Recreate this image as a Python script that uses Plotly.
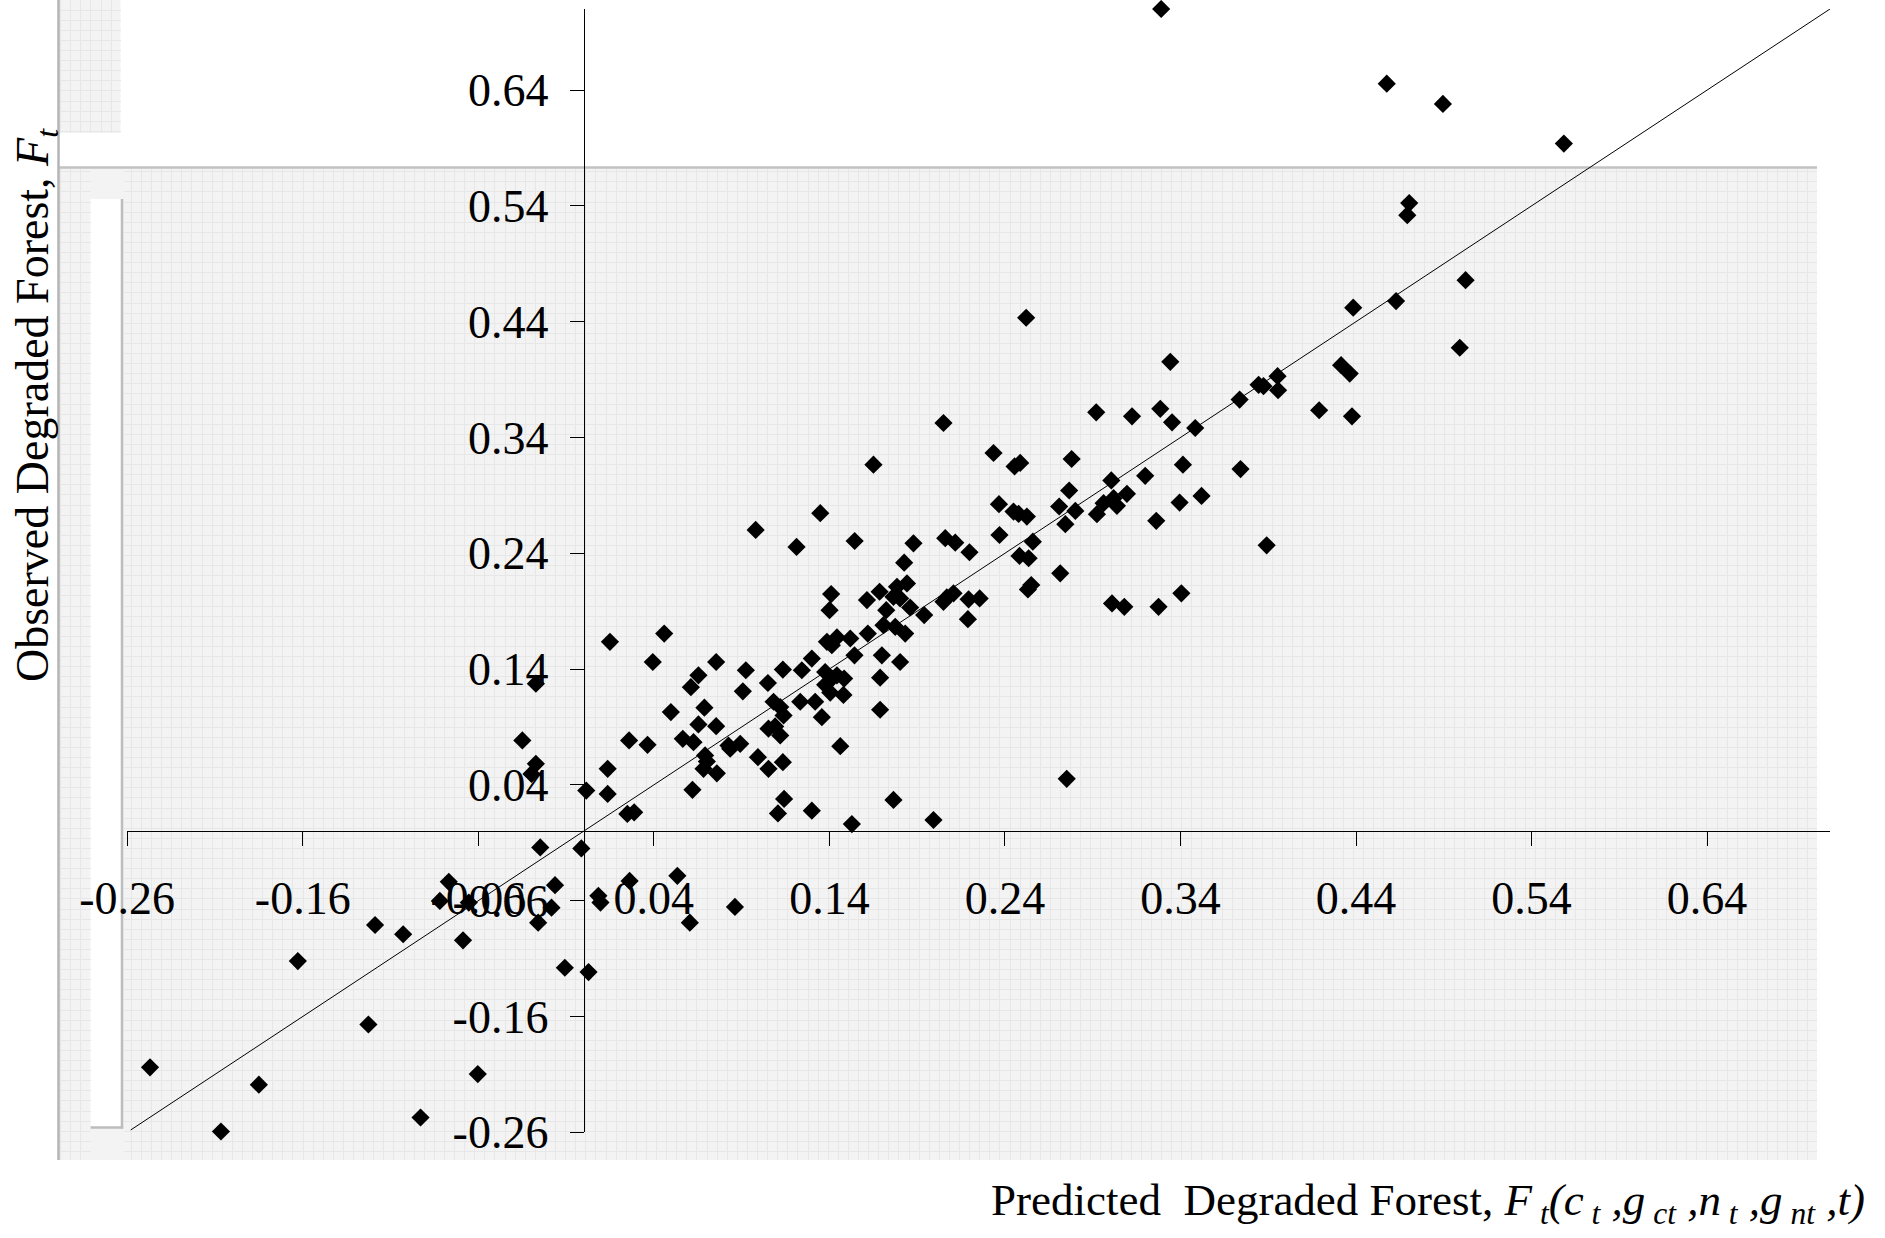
import plotly.graph_objects as go

# ---------------- data ----------------
PREDICTED = [
    0.329, 0.4575, 0.4895, 0.5584, 0.4703, 0.4692, 0.5024, 0.4628, 0.4384, 0.4991,
    0.4315, 0.4364, 0.3953, 0.3873, 0.3845, 0.3956, 0.3737, 0.4190, 0.4377, 0.3742,
    0.3520, 0.3891, 0.2521, 0.3342,
    0.2050, 0.2920, 0.3124, 0.3285, 0.3352, 0.3484, 0.2335, 0.2455, 0.2487, 0.2780,
    0.3414, 0.3199, 0.3006, 0.2766, 0.3095, 0.2366, 0.2449, 0.2478, 0.2525, 0.2709,
    0.2801, 0.2962, 0.3019, 0.3038, 0.2924, 0.3395, 0.3262, 0.2744, 0.2369, 0.2559,
    0.1879, 0.2060, 0.2117, 0.2198, 0.2483, 0.2535, 0.1826, 0.2715, 0.1842, 0.2550,
    0.2531, 0.2069, 0.2107, 0.2050, 0.2193, 0.2256, 0.3010, 0.3080, 0.3275, 0.3405,
    0.1860, 0.1940, 0.2189, 0.1832, 0.1803,
    0.1785, 0.1765, 0.1686, 0.1614, 0.1803, 0.1410, 0.1401, 0.1724, 0.1708, 0.1775,
    0.1619, 0.1386, 0.1443, 0.1414, 0.1519, 0.1543, 0.1699, 0.1689, 0.1689, 0.1300,
    0.1243, 0.1135, 0.1050, 0.1376, 0.1414, 0.1443, 0.1484, 0.1376, 0.1405, 0.1480,
    0.1234, 0.1319, 0.1357, 0.1462, 0.1082, 0.1120, 0.1139, 0.1053, 0.1091, 0.1120,
    0.0907, 0.0924, 0.0755, 0.0654, 0.0611, 0.0688, 0.0654, 0.0755, 0.0565, 0.0626,
    0.0497, 0.0459, 0.0394, 0.0364, 0.0692, 0.0702, 0.0683, 0.0759, 0.0825, 0.0892,
    0.0835, 0.0993, 0.1053, 0.1135, 0.0620, 0.1142, 0.1107, 0.1300, 0.1528, 0.1765,
    0.1993,
    0.1651, 0.1348, 0.0980, 0.1213, 0.1544, 0.0150, 0.0259, 0.0137, 0.0137, 0.2752,
    0.0249, 0.0288,
    -0.0272, -0.0349, -0.0272, -0.0297, 0.0015,
    -0.0247, -0.0013, 0.0262, 0.0534, 0.0605, -0.0768, -0.0819, 0.0084, 0.0096, -0.0163,
    -0.0183, -0.0259, -0.0687, -0.1028, -0.1188, -0.1628, -0.0107, 0.0028, -0.1226, -0.0603,
    -0.2470, -0.1850, -0.2066, -0.0929, 0.0862, -0.0654,
]
OBSERVED = [
    0.710, 0.6455, 0.628, 0.5938, 0.5424, 0.5320, 0.4758, 0.4578, 0.4521, 0.4175,
    0.4024, 0.3952, 0.3929, 0.3843, 0.3855, 0.3808, 0.3727, 0.3635, 0.3583, 0.3127,
    0.2895, 0.2469, 0.4434, 0.4053,
    0.3525, 0.3617, 0.3583, 0.3647, 0.3531, 0.3482, 0.3266, 0.3150, 0.3180, 0.3214,
    0.3165, 0.3069, 0.3029, 0.2942, 0.2913, 0.2824, 0.2760, 0.2740, 0.2717, 0.2804,
    0.2766, 0.2833, 0.2876, 0.2810, 0.2738, 0.2838, 0.2680, 0.2651, 0.2558, 0.2500,
    0.2486, 0.2530, 0.2492, 0.2409, 0.2377, 0.2357, 0.2319, 0.2227, 0.2140, 0.2126,
    0.2088, 0.2019, 0.2054, 0.1981, 0.2002, 0.2010, 0.1967, 0.1938, 0.1938, 0.2054,
    0.1932, 0.1866, 0.1831, 0.1707, 0.1461,
    0.2111, 0.2024, 0.2068, 0.1996, 0.2010, 0.2048, 0.1909, 0.1909, 0.1779, 0.1765,
    0.1707, 0.1635, 0.1673, 0.1606, 0.1664, 0.1519, 0.1519, 0.1326, 0.1049, 0.1491,
    0.1390, 0.1396, 0.1280, 0.1375, 0.1318, 0.1346, 0.1318, 0.1264, 0.1197, 0.1177,
    0.1118, 0.1118, 0.0985, 0.0734, 0.1118, 0.1072, 0.1000, 0.0885, 0.0905, 0.0827,
    0.1208, 0.1390, 0.1461, 0.1346, 0.1244, 0.1067, 0.0922, 0.0907, 0.0798, 0.0769,
    0.1029, 0.1707, 0.1461, 0.0746, 0.0654, 0.0602, 0.0539, 0.0500, 0.0740, 0.0755,
    0.0712, 0.0639, 0.0539, 0.0596, 0.0357, 0.0279, 0.0154, 0.0177, 0.0062, 0.0270,
    0.0097,
    0.3165, 0.2746, 0.2602, 0.2455, 0.2506, 0.1635, 0.0784, 0.0539, 0.0322, 0.0452,
    0.0149, 0.0163,
    0.1274, 0.0784, 0.0582, 0.0495, 0.0351,
    -0.0140, -0.0149, -0.0429, -0.0385, -0.0790, -0.0437, -0.0602, -0.0558, -0.0616, -0.0466,
    -0.0660, -0.0790, -0.0942, -0.0890, -0.0810, -0.1121, -0.1179, -0.1216, -0.1669, -0.2097,
    -0.2039, -0.2189, -0.2593, -0.2472, -0.0654, -0.0616,
]
# 45-degree reference line (observed = predicted)
LINE_X = [-0.258, 0.71]
LINE_Y = [-0.258, 0.71]

TICK_VALUES = [-0.26, -0.16, -0.06, 0.04, 0.14, 0.24, 0.34, 0.44, 0.54, 0.64]
TICK_LABELS = ["-0.26", "-0.16", "-0.06", "0.04", "0.14", "0.24", "0.34", "0.44", "0.54", "0.64"]
AXIS_RANGE = [-0.26, 0.71]

X_TITLE = ("Predicted&nbsp; Degraded Forest, <i>F</i><sub><i> t</i></sub><i>(c</i><sub><i> t</i></sub>"
           "<i> ,g</i><sub><i> ct</i></sub><i> ,n</i><sub><i> t</i></sub><i> ,g</i><sub><i> nt</i></sub><i> ,t)</i>")
Y_TITLE = "Observed Degraded Forest, <i>F</i><sub><i>t</i></sub>"

# ---------------- layout geometry (pixels) ----------------
W, H = 1885, 1238
FONT = "Liberation Serif, Times New Roman, serif"


def fx(p):
    return p / W


def fy(p):
    return 1 - p / H


PLOT_L, PLOT_R, PLOT_T, PLOT_B = 127.2, 1830.0, 9.0, 1132.3
x_dom = [fx(PLOT_L), fx(PLOT_R)]
y_dom = [fy(PLOT_B), fy(PLOT_T)]
span = AXIS_RANGE[1] - AXIS_RANGE[0]
x_axis_pos = y_dom[0] + (y_dom[1] - y_dom[0]) * (0 - AXIS_RANGE[0]) / span
y_axis_pos = x_dom[0] + (x_dom[1] - x_dom[0]) * (0 - AXIS_RANGE[0]) / span

GREY = "#f3f3f3"
GRID = "#e7e7e7"
GRID_STEP = 10.1

fig = go.Figure()

# background texture subplots (lower ids -> drawn underneath the data subplot)
for ax in ("", "2", "3"):
    fig.add_trace(go.Scatter(x=[None], y=[None], xaxis="x" + ax, yaxis="y" + ax,
                             showlegend=False, hoverinfo="skip"))

# data (subplot x4/y4, drawn last)
fig.add_trace(go.Scatter(
    x=LINE_X, y=LINE_Y, mode="lines", xaxis="x4", yaxis="y4",
    line=dict(color="black", width=1), showlegend=False, hoverinfo="skip",
))
fig.add_trace(go.Scatter(
    x=PREDICTED, y=OBSERVED, mode="markers", xaxis="x4", yaxis="y4",
    marker=dict(symbol="diamond", size=14, color="black", line=dict(width=0)),
    cliponaxis=False, showlegend=False,
))

tex_axis = dict(showgrid=True, gridcolor=GRID, gridwidth=1, zeroline=False, showline=False,
                showticklabels=False, ticks="", fixedrange=True, automargin=False,
                tick0=0, dtick=GRID_STEP)


def tex_x(x0, x1, anchor):
    return dict(domain=[fx(x0), fx(x1)], range=[x0, x1], anchor=anchor, **tex_axis)


def tex_y(y0, y1, anchor):
    return dict(domain=[fy(y1), fy(y0)], range=[y1, y0], anchor=anchor, **tex_axis)


ticks_common = dict(
    tickmode="array", tickvals=TICK_VALUES, ticktext=TICK_LABELS,
    range=AXIS_RANGE, showgrid=False, zeroline=False,
    showline=True, linecolor="black", linewidth=1,
    ticks="outside", ticklen=14, tickwidth=1, tickcolor="black",
    tickfont=dict(family=FONT, size=46, color="black"),
    anchor="free", automargin=False,
)

fig.update_layout(
    template="none",
    width=W, height=H,
    margin=dict(l=0, r=0, t=0, b=0, pad=0, autoexpand=False),
    paper_bgcolor="white", plot_bgcolor="rgba(0,0,0,0)",
    showlegend=False,
    font=dict(family=FONT, color="black"),
    # textured grey panel, right of the white strip
    xaxis=tex_x(123.5, 1817, "y"), yaxis=tex_y(169, 1160, "x"),
    # textured grey panel, left of the white strip
    xaxis2=tex_x(59.5, 90.6, "y2"), yaxis2=tex_y(169, 1160, "x2"),
    # small textured block, top-left
    xaxis3=tex_x(59.5, 120.5, "y3"), yaxis3=tex_y(0, 133, "x3"),
    # data axes crossing at the origin
    xaxis4=dict(domain=x_dom, position=x_axis_pos, side="bottom", ticklabelstandoff=13, **ticks_common),
    yaxis4=dict(domain=y_dom, position=y_axis_pos, side="left", ticklabelstandoff=12, **ticks_common),
)

shapes = [
    # grey background panels
    dict(type="rect", xref="paper", yref="paper", x0=fx(58), x1=fx(1817), y0=fy(1160), y1=fy(167),
         fillcolor=GREY, line=dict(width=0), layer="below"),
    dict(type="rect", xref="paper", yref="paper", x0=fx(58), x1=fx(120.5), y0=fy(133), y1=fy(0),
         fillcolor=GREY, line=dict(width=0), layer="below"),
    # white strip with grey edges
    dict(type="rect", xref="paper", yref="paper", x0=fx(90.6), x1=fx(122), y0=fy(1127), y1=fy(199),
         fillcolor="white", line=dict(width=0), layer="below"),
    dict(type="line", xref="paper", yref="paper", x0=fx(122), x1=fx(122), y0=fy(199), y1=fy(1128.5),
         line=dict(color="#bdbdbd", width=2.5), layer="below"),
    dict(type="line", xref="paper", yref="paper", x0=fx(90.6), x1=fx(123.2), y0=fy(1127.5), y1=fy(1127.5),
         line=dict(color="#bdbdbd", width=2.5), layer="below"),
    # panel borders
    dict(type="line", xref="paper", yref="paper", x0=fx(58), x1=fx(1817), y0=fy(167.5), y1=fy(167.5),
         line=dict(color="#c2c2c2", width=2.5), layer="below"),
    dict(type="line", xref="paper", yref="paper", x0=fx(58.5), x1=fx(58.5), y0=fy(0), y1=fy(1160),
         line=dict(color="#b4b4b4", width=2.5), layer="below"),
]
fig.update_layout(shapes=shapes)

fig.add_annotation(
    text=Y_TITLE, textangle=-90, xref="paper", yref="paper", x=fx(36), y=fy(405),
    xanchor="center", yanchor="middle", showarrow=False,
    font=dict(family=FONT, size=46, color="black"),
)
fig.add_annotation(
    text=X_TITLE, xref="paper", yref="paper", x=fx(1867), y=fy(1203),
    xanchor="right", yanchor="middle", showarrow=False,
    font=dict(family=FONT, size=45, color="black"),
)

fig.write_html(
    "out.html",
    config={"displayModeBar": False},
    post_script="document.body.style.margin='0px';",
)
